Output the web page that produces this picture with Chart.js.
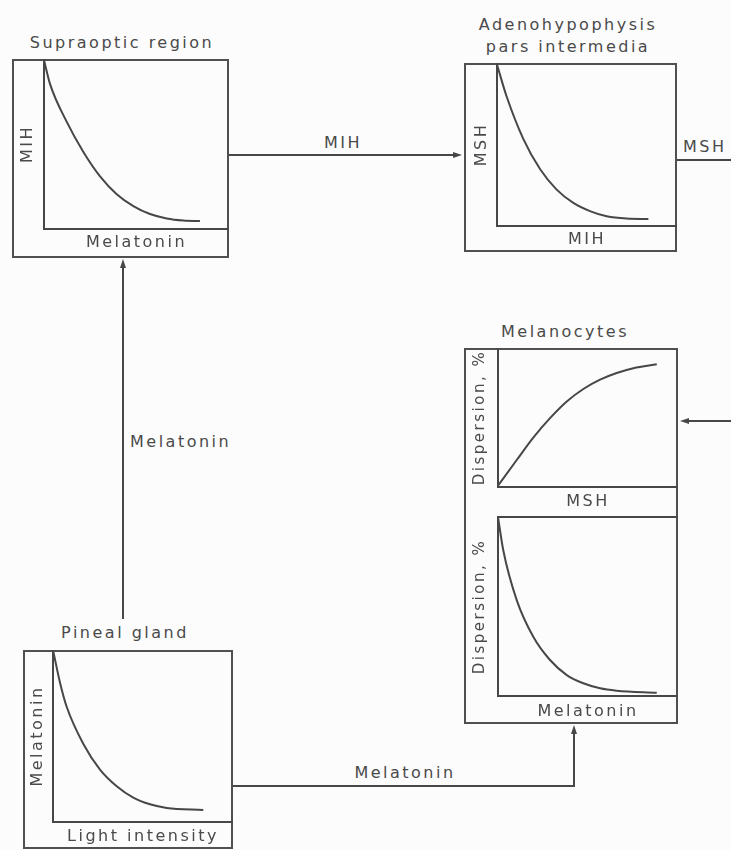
<!DOCTYPE html>
<html>
<head>
<meta charset="utf-8">
<script src="https://cdn.jsdelivr.net/npm/chart.js@4.4.1/dist/chart.umd.min.js"></script>
<style>
  html,body{margin:0;padding:0;background:#fcfcfc;}
  #page{position:relative;width:731px;height:850px;overflow:hidden;font-family:'DejaVu Sans',sans-serif;color:#4a4a4a;}
  .box{position:absolute;box-sizing:border-box;border:2px solid #505050;}
  .lbl{position:absolute;font-size:16px;letter-spacing:2.5px;white-space:nowrap;line-height:1;transform:translate(-50%,-50%);}
  .lbl.left{transform:translate(0,-50%);}
  canvas{position:absolute;}
  svg{position:absolute;left:0;top:0;}
</style>
</head>
<body>
<div id="page">
  <svg width="731" height="850">
    <g stroke="#474747" stroke-width="2" fill="none">
      <line x1="229" y1="155" x2="455" y2="155"/>
      <line x1="677" y1="160" x2="731" y2="160"/>
      <line x1="731" y1="421" x2="686" y2="421"/>
      <line x1="123" y1="619" x2="123" y2="266"/>
      <polyline points="233,786 574,786 574,732"/>
    </g>
    <g fill="#474747">
      <polygon points="462,155 453,152 453,158"/>
      <polygon points="680,421 689,418 689,424"/>
      <polygon points="123,259 120,268 126,268"/>
      <polygon points="574,725 571,734 577,734"/>
    </g>
  </svg>

  <div class="box" style="left:12px;top:59px;width:217px;height:199px;"></div>
  <div class="box" style="left:464px;top:63px;width:213px;height:189px;"></div>
  <div class="box" style="left:464px;top:348px;width:214px;height:376px;"></div>
  <div class="box" style="left:23px;top:650px;width:210px;height:199px;"></div>

  <div class="lbl" style="left:122px;top:43px;">Supraoptic region</div>
  <div class="lbl" style="left:568px;top:25px;">Adenohypophysis</div>
  <div class="lbl" style="left:568px;top:47px;">pars intermedia</div>
  <div class="lbl" style="left:565px;top:332px;">Melanocytes</div>
  <div class="lbl" style="left:125px;top:633px;">Pineal gland</div>
  <div class="lbl" style="left:343px;top:143px;">MIH</div>
  <div class="lbl left" style="left:683px;top:147px;">MSH</div>
  <div class="lbl left" style="left:130px;top:442px;">Melatonin</div>
  <div class="lbl" style="left:405px;top:773px;">Melatonin</div>
</div>

<script>
// 図から読み取った曲線（横軸・縦軸とも 0-10 の相対値）
const supraMelatonin = [0, 0.32, 1.23, 2.12, 3.03, 3.93, 4.83, 5.73, 6.63, 7.53, 8.43];
const supraMIH       = [9.94, 8.55, 6.3, 4.55, 3.1, 2.05, 1.35, 0.88, 0.62, 0.5, 0.47];

const adenoMIH = [0, 0.54, 1.46, 2.39, 3.3, 4.24, 5.2, 6.09, 7.2, 8.41];
const adenoMSH = [9.9, 7.93, 5.35, 3.5, 2.25, 1.42, 0.9, 0.6, 0.46, 0.43];

const melanoMSH     = [0, 1.04, 1.96, 2.89, 3.82, 4.74, 5.67, 6.59, 7.52, 8.82];
const melanoDispMSH = [0.1, 1.94, 3.55, 4.95, 6.15, 7.05, 7.72, 8.2, 8.55, 8.83];

const melanoMelatonin = [0, 0.29, 1.04, 1.96, 2.89, 3.82, 4.74, 5.67, 6.59, 8.82];
const melanoDispMel   = [10, 8.16, 5.36, 3.31, 2.01, 1.17, 0.71, 0.43, 0.3, 0.18];

const pinealLight     = [0, 0.39, 0.76, 1.68, 2.61, 3.54, 4.46, 5.39, 6.32, 8.35];
const pinealMelatonin = [10, 8.1, 6.7, 4.55, 3.05, 2.08, 1.42, 1.03, 0.82, 0.7];

const LINE = '#474747';
const TEXT = '#4a4a4a';
const FONT = 16;
const FAMILY = 'DejaVu Sans';

// 文字間隔を広げる（原図のレタリング風）
const spacing = { id: 'spacing', beforeDraw(chart){ chart.ctx.letterSpacing = '2.5px'; } };

// l,t,r,b = canvas の位置, ax = 縦軸の x, ay = 横軸の y
const panels = [
  {l:14, t:59, r:229, b:256, ax:44, ay:229, yTitleX:28, xTitleY:243, xs:supraMelatonin, ys:supraMIH, xText:'Melatonin', yText:'MIH'},
  {l:466, t:63, r:677, b:250, ax:497, ay:226, yTitleX:482, xTitleY:240, xs:adenoMIH, ys:adenoMSH, xText:'MIH', yText:'MSH'},
  {l:466, t:348, r:678, b:517, ax:498, ay:487, yTitleX:480, xTitleY:502, xs:melanoMSH, ys:melanoDispMSH, xText:'MSH', yText:'Dispersion, %', ySize:15},
  {l:466, t:515, r:678, b:722, ax:498, ay:696, yTitleX:480, xTitleY:712, xs:melanoMelatonin, ys:melanoDispMel, xText:'Melatonin', yText:'Dispersion, %', ySize:15, padTop:2, topLine:true},
  {l:25, t:650, r:233, b:847, ax:53, ay:822, yTitleX:38, xTitleY:837, xs:pinealLight, ys:pinealMelatonin, xText:'Light intensity', yText:'Melatonin'}
];

const page = document.getElementById('page');

panels.forEach(function(p){
  const cv = document.createElement('canvas');
  cv.width = p.r - p.l;
  cv.height = p.b - p.t;
  cv.style.left = p.l + 'px';
  cv.style.top = p.t + 'px';
  page.appendChild(cv);

  const ySize = p.ySize || FONT;
  const lh = FONT * 1.2;
  const ylh = ySize * 1.2;
  const yw = p.ax - p.l;
  const xh = p.b - p.ay;
  const yPadTop = p.yTitleX - p.l - ylh / 2;
  const xPadBottom = p.b - p.xTitleY - lh / 2;

  const scales = {
    x: {
      type: 'linear', position: 'bottom', min: 0, max: 10, display: true,
      ticks: {display: false},
      grid: {display: false, drawTicks: false},
      border: {display: true, color: LINE, width: 2},
      title: {display: true, text: p.xText, color: TEXT, font: {family: FAMILY, size: FONT},
              padding: {top: xh - lh - xPadBottom, bottom: xPadBottom}}
    },
    y: {
      type: 'linear', position: 'left', min: 0, max: 10, display: true,
      ticks: {display: false},
      grid: {display: false, drawTicks: false},
      border: {display: true, color: LINE, width: 2},
      title: {display: true, text: p.yText, color: TEXT, font: {family: FAMILY, size: ySize},
              padding: {top: yPadTop, bottom: yw - ylh - yPadTop}}
    }
  };
  if (p.topLine) {
    scales.x2 = {
      axis: 'x', type: 'linear', position: 'top', min: 0, max: 10, display: true,
      ticks: {display: false},
      grid: {display: false, drawTicks: false},
      border: {display: true, color: LINE, width: 2},
      title: {display: false}
    };
  }

  new Chart(cv, {
    type: 'line',
    data: {
      datasets: [{
        data: p.xs.map(function(x, i){ return {x: x, y: p.ys[i]}; }),
        borderColor: LINE,
        borderWidth: 2,
        pointRadius: 0,
        fill: false,
        cubicInterpolationMode: 'monotone'
      }]
    },
    options: {
      responsive: false,
      animation: false,
      layout: {padding: {left: 0, right: 0, top: p.padTop || 0, bottom: 0}},
      plugins: {legend: {display: false}, tooltip: {enabled: false}},
      scales: scales
    },
    plugins: [spacing]
  });
});
</script>
</body>
</html>
